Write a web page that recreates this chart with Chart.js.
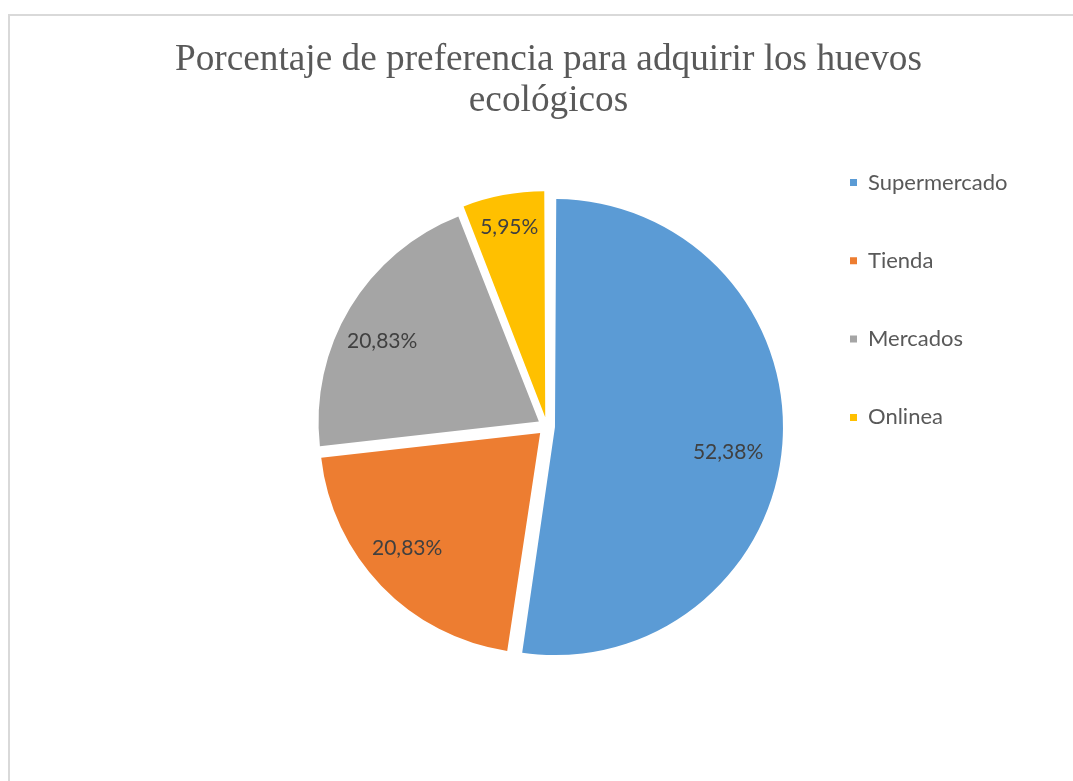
<!DOCTYPE html>
<html>
<head>
<meta charset="utf-8">
<script src="https://cdn.jsdelivr.net/npm/chart.js@4"></script>
<style>
  html, body { margin: 0; padding: 0; background: #fff; }
  #wrap { position: relative; width: 1073px; height: 781px; overflow: hidden; }
  #marco { position: absolute; left: 8px; top: 14px; width: 1200px; height: 900px; border: 2px solid #d9d9d9; box-sizing: border-box; }
  canvas { position: absolute; left: 0; top: 0; }
</style>
</head>
<body>
<div id="wrap">
  <div id="marco"></div>
  <canvas id="grafico" width="1073" height="781"></canvas>
</div>
<script>
const categorias = ['Supermercado', 'Tienda', 'Mercados', 'Onlinea'];
const porcentajes = [52.38, 20.83, 20.83, 5.95];
const colores = ['#5B9BD5', '#ED7D31', '#A5A5A5', '#FFC000'];
const tituloLineas = ['Porcentaje de preferencia para adquirir los huevos', 'ecológicos'];

// separacion de cada porcion (chart.js divide offset entre 4)
const separacion = [32, 38, 38, 38];
// distancia relativa y giro (grados) de la etiqueta de cada porcion
const posEtiqueta = [0.795, 0.80, 0.80, 0.88];
const giroEtiqueta = [4, 3, -4, 0];

const fuenteLeyenda = 22;
const padLeyenda = 56.3;
const medida = document.createElement('canvas').getContext('2d');
medida.font = fuenteLeyenda + 'px Lato';
const anchoTexto = Math.max(...categorias.map(c => medida.measureText(c).width));
const anchoLeyenda = padLeyenda + 7 + fuenteLeyenda / 2 + anchoTexto + 10;
const padDer = 1073 - 793.7 - anchoLeyenda;

const tituloPlugin = {
  id: 'tituloExcel',
  afterDraw(chart) {
    const ctx = chart.ctx;
    ctx.save();
    ctx.font = '37px "Liberation Serif"';
    ctx.fillStyle = '#595959';
    ctx.textAlign = 'center';
    ctx.textBaseline = 'alphabetic';
    const escala = 747 / ctx.measureText(tituloLineas[0]).width;
    tituloLineas.forEach((linea, i) => {
      ctx.save();
      ctx.translate(548.5, 69.5 + i * 41.3);
      ctx.scale(escala, 1);
      ctx.fillText(linea, 0, 0);
      ctx.restore();
    });
    ctx.restore();
  }
};

const etiquetasPlugin = {
  id: 'etiquetas',
  afterDatasetsDraw(chart) {
    const ctx = chart.ctx;
    const meta = chart.getDatasetMeta(0);
    ctx.save();
    ctx.font = '21px Lato';
    ctx.fillStyle = '#404040';
    ctx.textAlign = 'center';
    ctx.textBaseline = 'middle';
    meta.data.forEach((arc, i) => {
      const medio = (arc.startAngle + arc.endAngle) / 2;
      const desp = (arc.options.offset || 0) / 4;
      const cx = arc.x + Math.cos(medio) * desp;
      const cy = arc.y + Math.sin(medio) * desp;
      const ang = medio + giroEtiqueta[i] * Math.PI / 180;
      const dist = arc.outerRadius * posEtiqueta[i];
      const texto = porcentajes[i].toFixed(2).replace('.', ',') + '%';
      ctx.fillText(texto, cx + Math.cos(ang) * dist, cy + Math.sin(ang) * dist);
    });
    ctx.restore();
  }
};

var box = document.getElementById('grafico');
var grafico = new Chart(box, {
  type: 'pie',
  data: {
    labels: categorias,
    datasets: [{
      data: porcentajes,
      backgroundColor: colores,
      borderWidth: 0,
      offset: separacion,
      hoverOffset: 0,
      radius: 220
    }]
  },
  options: {
    responsive: false,
    animation: false,
    layout: {
      padding: { top: 115.2, bottom: 43.2, left: 300.3, right: padDer }
    },
    plugins: {
      title: { display: false },
      tooltip: { enabled: false },
      legend: {
        position: 'right',
        align: 'start',
        labels: {
          boxWidth: 7,
          boxHeight: 7,
          padding: padLeyenda,
          color: '#595959',
          font: { family: 'Lato', size: fuenteLeyenda }
        }
      }
    }
  },
  plugins: [tituloPlugin, etiquetasPlugin]
});
</script>
</body>
</html>
